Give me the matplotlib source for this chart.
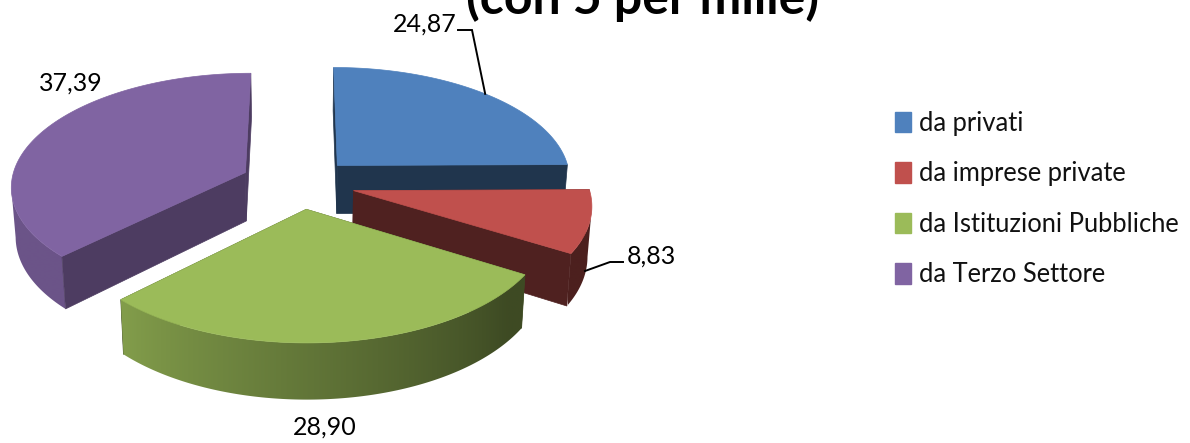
import numpy as np
import matplotlib
matplotlib.use('Agg')
import matplotlib.pyplot as plt
from matplotlib.patches import Polygon, Patch
from matplotlib.colors import to_rgb

plt.rcParams['font.family'] = ['Lato', 'DejaVu Sans']

categories = ['da privati', 'da imprese private', 'da Istituzioni Pubbliche', 'da Terzo Settore']
values = [24.87, 8.83, 28.90, 37.39]
colors = ['#4f81bd', '#c0504d', '#9bbb59', '#8064a2']
face_shade = [0.41, 0.41, 0.41, 0.60]
explode = [0.23, 0.235, 0.225, 0.255]
title = '(con 5 per mille)'

# projection of the tilted pie, in pixels
cx, cy = 300, 183.5
rx, ry = 234.5, 112.6
persp = 0.111
depth = 49


def project(u, v, z=0):
    w = 1 - persp * v
    shrink = 1 - 0.015 * z
    return cx + rx * u / w * shrink, cy + ry * v / w + depth * z / w


def arc_shade(t):
    return np.interp(t, [130, 225], [0.40, 0.84])


def shaded(color, s):
    return tuple(c * s for c in to_rgb(color))


fig = plt.figure(figsize=(11.9, 4.43), dpi=100)
ax = fig.add_axes([0, 0, 1, 1])
ax.axis('off')

edges = np.concatenate([[0], np.cumsum(values)]) / np.sum(values) * 360
tips = {}
zo = 2


def add_face(ox, oy, u, v, c):
    global zo
    q = [project(ox, oy), project(u, v), project(u, v, 1), project(ox, oy, 1)]
    ax.add_patch(Polygon(q, closed=True, facecolor=c, edgecolor=c, lw=0.5, zorder=zo))
    zo += 1


# painter's order: purple, blue, red, green
for i in [3, 0, 1, 2]:
    t0, t1 = edges[i], edges[i + 1]
    mid = np.radians((t0 + t1) / 2)
    ox, oy = explode[i] * np.sin(mid), -explode[i] * np.cos(mid)
    tips[i] = (ox, oy)
    ts = np.linspace(t0, t1, 200)
    us = ox + np.sin(np.radians(ts))
    vs = oy - np.cos(np.radians(ts))
    fc = shaded(colors[i], face_shade[i])

    # cut faces turned away from the viewer go under the rim
    start_front = -np.cos(np.radians(t0 - 90)) > 0.01
    end_front = -np.cos(np.radians(t1 + 90)) > 0.01
    if not start_front:
        add_face(ox, oy, us[0], vs[0], fc)
    if not end_front:
        add_face(ox, oy, us[-1], vs[-1], fc)

    upper = [project(u, v) for u, v in zip(us, vs)]
    px = np.array([p[0] for p in upper])
    # only the front part of the rim shows (x falls going clockwise)
    front = np.gradient(px) < 0
    if front.sum() > 1:
        fu, fv, ft = us[front], vs[front], ts[front]
        rim_up = [project(u, v) for u, v in zip(fu, fv)]
        rim_lo = [project(u, v, 1) for u, v in zip(fu, fv)]
        rim = Polygon(rim_up + rim_lo[::-1], closed=True, transform=ax.transData,
                      facecolor='none', edgecolor='none')
        ax.add_patch(rim)
        rx_pts = np.array([p[0] for p in rim_up])
        order = np.argsort(rx_pts)
        xgrid = np.linspace(rx_pts.min() - 3, rx_pts.max() + 3, 512)
        sgrid = np.interp(xgrid, rx_pts[order], arc_shade(ft[order]))
        row = np.array([shaded(colors[i], s) for s in sgrid])[np.newaxis, :, :]
        pys = [p[1] for p in rim_up + rim_lo]
        im = ax.imshow(row, extent=(xgrid[0], xgrid[-1], max(pys) + 2, min(pys) - 2), aspect='auto',
                       interpolation='bilinear', zorder=zo)
        im.set_clip_path(rim)
        zo += 1

    if start_front:
        add_face(ox, oy, us[0], vs[0], fc)
    if end_front:
        add_face(ox, oy, us[-1], vs[-1], fc)

    top = [project(ox, oy)] + upper
    ax.add_patch(Polygon(top, closed=True, facecolor=colors[i], edgecolor=colors[i], lw=0.5, zorder=zo))
    zo += 1

ax.set_xlim(0, 1190)
ax.set_ylim(443, 0)

# data labels and their leader lines
labels = [f'{v:.2f}'.replace('.', ',') for v in values]
mid0 = np.radians((edges[0] + edges[1]) / 2)
x0, y0 = project(tips[0][0] + np.sin(mid0), tips[0][1] - np.cos(mid0))
ax.plot([458, 472, x0], [30, 30, y0], color='black', lw=1.4, solid_joinstyle='miter', zorder=zo)
ax.plot([585, 610, 623], [271, 262, 262], color='black', lw=1.4, zorder=zo)
label_pos = [(425, 24), (651, 256), (325, 427), (71, 83)]
for s, (lx, ly) in zip(labels, label_pos):
    ax.text(lx, ly, s, fontsize=18, ha='center', va='center', color='black', zorder=zo)

ax.text(643, 14, title, fontsize=36, fontweight='bold', ha='center', va='baseline', color='black', zorder=zo)

handles = [Patch(facecolor=c, edgecolor=c) for c in colors]
ax.legend(handles, categories, loc='center left', bbox_to_anchor=(895 / 1190, 1 - 199 / 443),
          frameon=False, fontsize=18.4, handlelength=0.62, handleheight=0.86, handletextpad=0.3,
          labelspacing=1.0, borderpad=0, borderaxespad=0, labelcolor='#111111')

fig.savefig('out.png', dpi=100)
